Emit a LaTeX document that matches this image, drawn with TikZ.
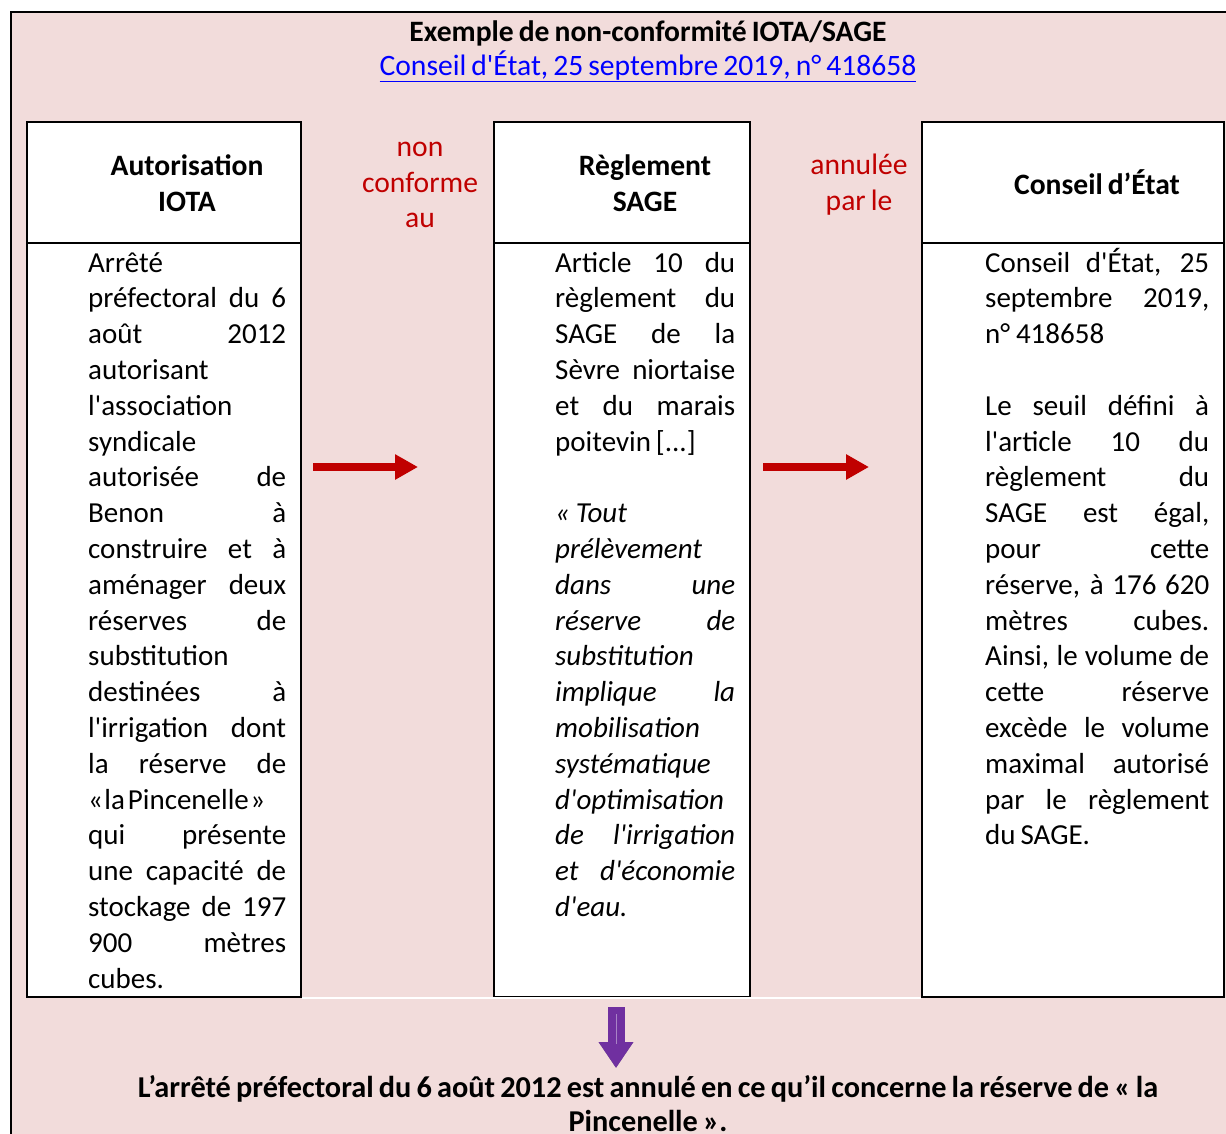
\documentclass[tikz,border=0pt]{standalone}
\usepackage{fontspec}
\newfontfamily\carlito{Carlito}
\newfontfamily\carlitobody{Carlito}[WordSpace={0.75,2,1.5}]
\usetikzlibrary{arrows.meta}
\definecolor{pinkbg}{HTML}{F2DCDB}
\definecolor{darkred}{HTML}{C00000}
\definecolor{arrowpurple}{HTML}{7030A0}
\definecolor{linkblue}{HTML}{0000FF}
\hbadness=10000
\hfuzz=20pt
\tolerance=10000
\hyphenpenalty=10000
\exhyphenpenalty=10000
\begin{document}
\begin{tikzpicture}[x=1pt,y=-1pt,
    txt/.style={font=\carlito\fontsize{29.6pt}{35.8pt}\selectfont, inner sep=0pt},
    boldtxt/.style={font=\carlito\fontsize{29.6pt}{35.8pt}\selectfont\bfseries, inner sep=0pt},
    redtxt/.style={txt, text=darkred, align=center},
    bodytxt/.style={font=\carlitobody\fontsize{29pt}{35.8pt}\selectfont,
      inner sep=0pt, align=justify, anchor=base west},
    colhead/.style={draw, line width=2pt, fill=white, anchor=north west,
      minimum height=121pt, inner sep=0pt},
    colbody/.style={draw, line width=2pt, fill=white, anchor=north west,
      minimum height=754pt, inner sep=0pt},
    redarrow/.style={draw=darkred, line width=8pt,
      -{Triangle[length=23pt,width=24pt]}},
    downarrow/.style={line width=17pt, -{Triangle[length=26pt,width=33pt]}}]
  \useasboundingbox (0,0) rectangle (1226,1133);
  \clip (0,0) rectangle (1226,1133);
  \draw[line width=2pt, fill=pinkbg] (11,12) rectangle (1240,1150);

  % title
  \node[boldtxt, anchor=base] (title) at (648,41) {Exemple de non-conformité IOTA/SAGE};
  \node[txt, anchor=base, text=linkblue] (link) at (648,75)
    {\underline{Conseil d'État, 25 septembre 2019, n° 418658}};

  % columns
  \node[colhead, minimum width=274pt] (head1) at (26,121) {};
  \node[colbody, minimum width=274pt] (body1) at (26,242) {};
  \node[colhead, minimum width=256pt] (head2) at (493,121) {};
  \node[colbody, minimum width=256pt] (body2) at (493,242) {};
  \node[colhead, minimum width=302pt] (head3) at (921,121) {};
  \node[colbody, minimum width=302pt] (body3) at (921,242) {};
  \draw[white, line width=1.5pt] (body1.south east) -- (body3.south west);

  \node[boldtxt, align=center] (iota) at (187,183) {Autorisation\\IOTA};
  \node[boldtxt, align=center] (sage) at (645,183) {Règlement\\SAGE};
  \node[boldtxt] (ce) at (1097,182) {Conseil d’État};

  \node[redtxt] (nonconf) at (420,185) {non\\conforme\\au};
  \node[redtxt] (annul) at (859,185) {annulée\\par le};

  % texts
  \node[bodytxt, text width=198pt] (txt1) at (88,272) {%
    Arrêté\linebreak
    préfectoral du 6\linebreak
    août 2012\linebreak
    autorisant\linebreak
    l'association\linebreak
    syndicale\linebreak
    autorisée de\linebreak
    Benon à\linebreak
    construire et à\linebreak
    aménager deux\linebreak
    réserves de\linebreak
    substitution\linebreak
    destinées à\linebreak
    l'irrigation dont\linebreak
    la réserve de\linebreak
    «\hspace{0.05em}la\hspace{0.1em}Pincenelle\hspace{0.05em}»\linebreak
    qui présente\linebreak
    une capacité de\linebreak
    stockage de 197\linebreak
    900 mètres\linebreak
    cubes.};
  \node[bodytxt, text width=180pt] (txt2) at (555,272) {%
    Article 10 du\linebreak
    règlement du\linebreak
    SAGE de la\linebreak
    Sèvre niortaise\linebreak
    et du marais\linebreak
    poitevin [...]\\[35.8pt]
    \itshape «\hspace{0.2em}Tout\linebreak
    prélèvement\linebreak
    dans une\linebreak
    réserve de\linebreak
    substitution\linebreak
    implique la\linebreak
    mobilisation\linebreak
    systématique\linebreak
    d'optimisation\linebreak
    de l'irrigation\linebreak
    et d'économie\linebreak
    d'eau.};
  \node[bodytxt, text width=224pt] (txt3) at (985,272) {%
    Conseil d'État, 25\linebreak
    septembre 2019,\linebreak
    n°\hspace{0.2em}418658\\[35.8pt]
    Le seuil défini à\linebreak
    l'article 10 du\linebreak
    règlement du\linebreak
    SAGE est égal,\linebreak
    pour cette\linebreak
    réserve, à 176 620\linebreak
    mètres cubes.\linebreak
    Ainsi, le volume de\linebreak
    cette réserve\linebreak
    excède le volume\linebreak
    maximal autorisé\linebreak
    par le règlement\linebreak
    du SAGE.};

  % arrows
  \coordinate (r1a) at (313,467);
  \coordinate (r1b) at (418,467);
  \coordinate (r2a) at (763,467);
  \coordinate (r2b) at (869,467);
  \draw[redarrow] (r1a) -- (r1b);
  \draw[redarrow] (r2a) -- (r2b);

  \coordinate (da) at (616,1007);
  \coordinate (db) at (616,1068);
  \draw[downarrow, draw=gray!80!arrowpurple, fill=gray!80!arrowpurple,
    shift={(3pt,-3pt)}] (da) -- (db);
  \draw[downarrow, draw=arrowpurple, fill=arrowpurple] (da) -- (db);
  \draw[arrowpurple!60!white, line width=1pt] (616,1014) -- (616,1044);

  % verdict
  \node[boldtxt, font=\carlito\fontsize{30.3pt}{34pt}\selectfont\bfseries,
    align=center, anchor=north] (verdict) at (648,1075)
    {L’arrêté préfectoral du 6 août 2012 est annulé en ce qu’il concerne la réserve de «~la\\
     Pincenelle~».};
\end{tikzpicture}
\end{document}
